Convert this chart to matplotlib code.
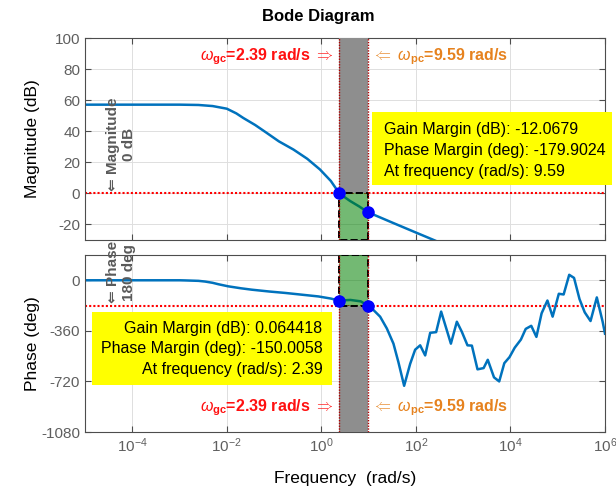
import numpy as np
import matplotlib.pyplot as plt
from matplotlib.patches import Rectangle
from matplotlib.ticker import LogLocator, NullLocator, LogFormatterSciNotation

plt.rcParams['font.family'] = ['Liberation Sans', 'DejaVu Sans']
plt.rcParams['axes.unicode_minus'] = False
plt.rcParams['mathtext.fontset'] = 'custom'
plt.rcParams['mathtext.rm'] = 'Liberation Sans'
plt.rcParams['mathtext.it'] = 'Liberation Sans:italic'
plt.rcParams['mathtext.bf'] = 'Liberation Sans:bold'

# 穿越频率与裕度
w_gc = 2.39
w_pc = 9.59
gm_pc, pm_pc = -12.0679, -179.9024
gm_gc, pm_gc = 0.064418, -150.0058

# 幅频特性 (log10 w, dB)
mag_logw = [-5, -3, -2.6, -2.3, -2.0, -1.8, -1.65, -1.4, -1.155, -0.9, -0.59,
            -0.3, -0.03, 0.2, np.log10(w_gc), 0.5, 0.608, 0.8, np.log10(w_pc),
            1.5, 2.0, 2.338, 2.6]
mag_db = [57.1, 57.1, 56.9, 56.2, 54.5, 51.5, 48.5, 44.0, 38.9, 33.5, 28.2,
          22.3, 15.4, 8.0, gm_gc, -2.6, -4.9, -8.4, gm_pc,
          -18.8, -25.2, -29.5, -32.9]

# 相频特性 (log10 w, deg)
ph_at_gc = -145
ph_at_pc = -180
ph_logw = [-5, -3, -2.88, -2.6, -2.46, -2.3, -2.18, -1.97, -1.7, -1.47, -1.1,
           -0.767, -0.4, -0.062, 0.2, np.log10(w_gc), 0.5, 0.616, 0.833,
           np.log10(w_pc), 1.10, 1.243, 1.385, 1.525, 1.63, 1.751, 1.878,
           1.984, 2.09, 2.196, 2.302, 2.428, 2.534, 2.74, 2.866, 2.972, 3.091,
           3.184, 3.303, 3.432, 3.52, 3.652, 3.762, 3.87, 3.98, 4.09, 4.221,
           4.323, 4.44, 4.549, 4.659, 4.782, 4.892, 5.023, 5.125, 5.243,
           5.345, 5.461, 5.571, 5.694, 5.827, 5.95, 6.0]
ph_deg = [0, 0, -1, -4, -9, -18, -28, -43, -57, -67, -80,
          -90, -103, -115, -130, ph_at_gc, -142, -140, -150,
          ph_at_pc, -211, -259, -343, -451, -583, -751, -595,
          -494, -463, -535, -374, -369, -223, -451, -295, -367, -463,
          -465, -634, -625, -566, -691, -720, -590, -547, -480, -422,
          -346, -324, -403, -235, -144, -259, -96, -101, 39,
          17, -134, -228, -290, -122, -295, -380]

w_mag = 10 ** np.array(mag_logw)
w_ph = 10 ** np.array(ph_logw)

blue = '#0072BD'
gray_txt = '#5a5a5a'
tick_col = '#5f5f5f'
red = '#ff1010'
orange = '#e6821e'

fig = plt.figure(figsize=(6.16, 4.91), dpi=100)
ax1 = fig.add_axes([85 / 616, 1 - 240 / 491, 520 / 616, 202 / 491])
ax2 = fig.add_axes([85 / 616, 1 - 432 / 491, 520 / 616, 177 / 491])

for ax in (ax1, ax2):
    ax.set_xscale('log')
    ax.set_xlim(1e-5, 1e6)
    ax.xaxis.set_major_locator(LogLocator(base=100))
    ax.xaxis.set_minor_locator(NullLocator())
    ax.xaxis.set_major_formatter(LogFormatterSciNotation(base=10))
    ax.tick_params(direction='in', length=4, width=0.8, top=True, right=True,
                   colors='#4d4d4d', labelcolor=tick_col, labelsize=11)
    ax.grid(True, color='#dedede', lw=0.7)
    ax.set_axisbelow(True)
    for s in ax.spines.values():
        s.set_color('#4d4d4d')
        s.set_linewidth(0.8)

ax1.tick_params(labelbottom=False)
ax1.set_ylim(-30, 100)
ax1.set_yticks(range(-20, 101, 20))
ax2.set_ylim(-1080, 180)
ax2.set_yticks([-1080, -720, -360, 0])

# 幅频图
ax1.axhline(0, color='red', ls=(0, (1, 1)), lw=1.5, zorder=2)
ax1.fill_betweenx([0, 100], w_gc, w_pc, color='#8e8e8e', lw=0, zorder=3)
ax1.plot(w_mag, mag_db, color=blue, lw=1.8, zorder=2.5)
ax1.fill_betweenx([-30, 0], w_gc, w_pc, facecolor=(0, 0.5, 0, 0.55),
                  edgecolor='black', linestyle='--', lw=1.4, zorder=3)
ax1.plot([w_gc, w_pc], [gm_gc, gm_pc], 'o', color='#0000ff', ms=8, zorder=6)

# 相频图
ax2.axhline(-180, color='red', ls=(0, (1, 1)), lw=1.5, zorder=2)
ax2.fill_betweenx([-1080, -180], w_gc, w_pc, color='#8e8e8e', lw=0, zorder=3)
ax2.plot(w_ph, ph_deg, color=blue, lw=1.8, zorder=2.5)
ax2.fill_betweenx([-180, 180], w_gc, w_pc, facecolor=(0, 0.5, 0, 0.55),
                  edgecolor='black', linestyle='--', lw=1.4, zorder=3)
ax2.plot([w_gc, w_pc], [ph_at_gc, ph_at_pc], 'o', color='#0000ff', ms=8, zorder=6)

for ax in (ax1, ax2):
    for w in (w_gc, w_pc):
        ax.axvline(w, color='#b00000', ls=(0, (1, 1)), lw=1.0, zorder=4)

# 穿越频率标注
for ax, y in ((ax1, 88), (ax2, -909)):
    ax.annotate(r'$\omega_{\mathbf{gc}}$=2.39 rad/s $\Rightarrow$', xy=(w_gc, y),
                xytext=(-4, 0), textcoords='offset points', ha='right',
                va='center', color=red, fontsize=11.5, fontweight='bold')
    ax.annotate(r'$\Leftarrow$ $\omega_{\mathbf{pc}}$=9.59 rad/s', xy=(w_pc, y),
                xytext=(3, 0), textcoords='offset points', ha='left',
                va='center', color=orange, fontsize=11.5, fontweight='bold')

ax1.text(10 ** -4.24, 1.5, '⇐ Magnitude\n0 dB', rotation=90, ha='center',
         va='bottom', multialignment='center', color=gray_txt, fontsize=11,
         fontweight='bold', zorder=7, clip_on=False)
ax2.text(10 ** -4.24, -165, '⇐ Phase\n180 deg', rotation=90, ha='center',
         va='bottom', multialignment='center', color=gray_txt, fontsize=11,
         fontweight='bold', zorder=7, clip_on=False)

ax1.set_ylabel('Magnitude (dB)', fontsize=12.5)
ax2.set_ylabel('Phase (deg)', fontsize=12.5)
ax1.yaxis.set_label_coords(-0.087, 0.5)
ax2.yaxis.set_label_coords(-0.087, 0.5)
ax2.set_xlabel('Frequency  (rad/s)', fontsize=12.5)
ax2.xaxis.set_label_coords(0.5, -0.22)

fig.text(318 / 616, 1 - 17 / 491, 'Bode Diagram', ha='center', va='center',
         fontsize=12, fontweight='bold')

# 裕度信息框
def info_box(x0, x1, y0, y1, lines, tx, ty, ha):
    fig.add_artist(Rectangle((x0 / 616, 1 - y1 / 491), (x1 - x0) / 616,
                             (y1 - y0) / 491, transform=fig.transFigure,
                             facecolor='#ffff00', edgecolor='none', zorder=8))
    for s, yy in zip(lines, ty):
        fig.text(tx / 616, 1 - yy / 491, s, ha=ha, va='center', fontsize=11.5,
                 color='black', zorder=9)

info_box(372, 612, 112, 185,
         [f'Gain Margin (dB): {gm_pc}', f'Phase Margin (deg): {pm_pc}',
          f'At frequency (rad/s): {w_pc}'],
         383.5, [129.6, 150.5, 171.4], 'left')
info_box(92, 332, 311.5, 385,
         [f'Gain Margin (dB): {gm_gc}', f'Phase Margin (deg): {pm_gc}',
          f'At frequency (rad/s): {w_gc}'],
         322.3, [328.3, 349, 369.7], 'right')

fig.savefig('out.png', dpi=100, facecolor='white')
